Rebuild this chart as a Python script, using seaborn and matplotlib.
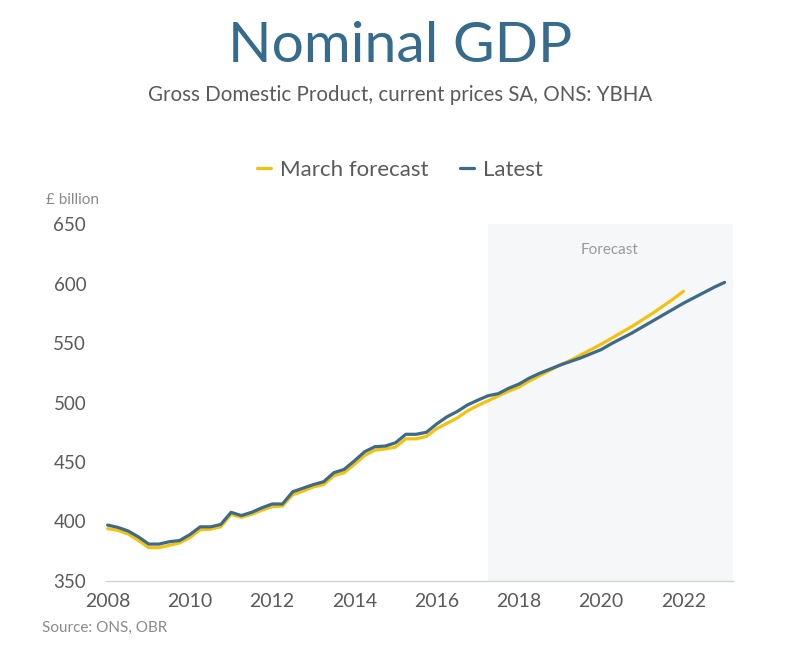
import matplotlib
matplotlib.use('Agg')
import matplotlib.pyplot as plt
from matplotlib.ticker import MultipleLocator
import seaborn as sns
import pandas as pd
import numpy as np

# Quarterly nominal GDP, £ billion, starting 2008 Q1
start_year = 2008
latest = [397, 395, 392, 387, 381, 381, 383, 384, 389, 395.5, 395.5, 397.5,
          407.7, 405, 407.7, 411.5, 414.7, 414.7, 425, 428, 431, 433.4, 441, 443.8,
          451, 458.7, 462.9, 463.4, 466.2, 473.3, 473.3, 475,
          482, 488, 492.5, 498, 502, 505.7, 507.5, 512, 515.5, 520.5, 524.5, 528,
          531.5, 534.5, 537.5, 541, 544.5, 549.5, 554, 558.5, 563.5, 568.5, 573.5, 578.5,
          583.5, 588, 592.5, 597, 601]
march_forecast = [394, 392.5, 389.5, 384, 378, 378, 380, 382, 386.5, 393, 393.5, 395.5,
                  406, 403.5, 406, 409.5, 412.5, 413, 422.5, 425.5, 429, 431, 438.5, 441,
                  448, 455.5, 460, 461, 462.5, 469.5, 469.5, 471.5,
                  478, 482.5, 487, 493, 497.5, 501.5, 505.5, 509.5, 513, 518, 522.5, 527,
                  531.5, 535.5, 540, 544.5, 549, 554, 559, 564, 569.5, 575, 581, 587, 593.5]
forecast_start = 2017.25
year_ticks = [2008, 2010, 2012, 2014, 2016, 2018, 2020, 2022]
value_ticks = [350, 400, 450, 500, 550, 600, 650]

def to_frame(values, name):
    years = start_year + np.arange(len(values)) * 0.25
    return pd.DataFrame({'year': years, 'value': values, 'series': name})

df = pd.concat([to_frame(march_forecast, 'March forecast'), to_frame(latest, 'Latest')])

sns.set_style('white')
plt.rcParams['font.family'] = ['Lato', 'DejaVu Sans']

fig = plt.figure(figsize=(8, 6.67), dpi=100)
ax = fig.add_axes([0.132, 0.129, 0.784, 0.535])

grey = '#5a5a5a'
palette = {'March forecast': '#f4c20d', 'Latest': '#3d6a89'}

ax.axvspan(forecast_start, 2023.2, color='#f6f7f9', lw=0, zorder=0)
sns.lineplot(data=df, x='year', y='value', hue='series', palette=palette,
             linewidth=2.3, ax=ax, legend=False)

ax.set_xlim(2007.95, 2023.2)
ax.set_ylim(350, 650)
ax.set_xticks(year_ticks)
ax.set_yticks(value_ticks)
ax.xaxis.set_minor_locator(MultipleLocator(0.25))
ax.set_xlabel('')
ax.set_ylabel('')

for s in ['top', 'right', 'left']:
    ax.spines[s].set_visible(False)
ax.spines['bottom'].set_color('#d2d2d2')
ax.spines['bottom'].set_linewidth(1)
ax.tick_params(axis='x', which='both', direction='in', length=4, color='#d2d2d2',
               labelsize=14, labelcolor=grey, pad=9)
ax.tick_params(axis='y', length=0, labelsize=13.5, labelcolor=grey, pad=14)

ax.text(2020.2, 628, 'Forecast', ha='center', va='center', fontsize=11,
        color='#9a9a9a')

fig.text(0.5, 0.93, 'Nominal GDP', ha='center', va='center', fontsize=41,
         color='#356b8c')
fig.text(0.5, 0.857, 'Gross Domestic Product, current prices SA, ONS: YBHA',
         ha='center', va='center', fontsize=14.8, color=grey)
fig.text(0.058, 0.7, '£ billion', ha='left', va='center', fontsize=11,
         color='#8a8a8a')
fig.text(0.052, 0.058, 'Source: ONS, OBR', ha='left', va='center', fontsize=11,
         color='#8a8a8a')

handles = [plt.Line2D([], [], color=palette[k], lw=2.3) for k in palette]
leg = fig.legend(handles, list(palette), loc='center', bbox_to_anchor=(0.5, 0.745),
                 ncol=2, frameon=False, handlelength=0.65, handletextpad=0.4,
                 columnspacing=1.4, fontsize=16)
for t in leg.get_texts():
    t.set_color(grey)

fig.savefig('out.png', dpi=100, facecolor='white')
